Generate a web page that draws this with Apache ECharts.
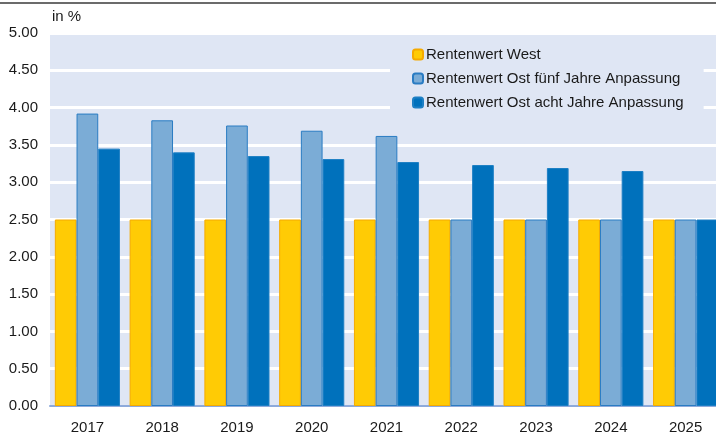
<!DOCTYPE html>
<html>
<head>
<meta charset="utf-8">
<script src="https://cdn.jsdelivr.net/npm/echarts@6/dist/echarts.min.js"></script>
<style>
html,body{margin:0;padding:0;background:#fff;}
#c{width:716px;height:434px;}
</style>
</head>
<body>
<div id="c"></div>
<script>
const categories = ['2017','2018','2019','2020','2021','2022','2023','2024','2025'];
const westValues = [2.50, 2.50, 2.50, 2.50, 2.50, 2.50, 2.50, 2.50, 2.50];
const ostFuenfValues = [3.92, 3.83, 3.76, 3.69, 3.62, 2.50, 2.50, 2.50, 2.50];
const ostAchtValues = [3.45, 3.40, 3.35, 3.31, 3.27, 3.23, 3.19, 3.15, 2.50];
const seriesNames = ['Rentenwert West', 'Rentenwert Ost fünf Jahre Anpassung', 'Rentenwert Ost acht Jahre Anpassung'];
const unitLabel = 'in %';

const FONT = '"Liberation Sans", Arial, sans-serif';
const chart = echarts.init(document.getElementById('c'), null, {renderer: 'canvas'});

function bar(name, data, color, border) {
  return {
    name, type: 'bar', data,
    barWidth: 21.7, barGap: '0%',
    itemStyle: {color, borderColor: border, borderWidth: 1},
    emphasis: {disabled: true}
  };
}

chart.setOption({
  animation: false,
  backgroundColor: '#ffffff',
  textStyle: {fontFamily: FONT},
  grid: {left: 50, right: -7, top: 33, bottom: 28, outerBoundsMode: 'none', containLabel: false,
    show: true, backgroundColor: '#dfe6f4', borderWidth: 0},
  graphic: [
    {type: 'line', shape: {x1: 0, y1: 3, x2: 716, y2: 3}, style: {stroke: '#3a3a3a', lineWidth: 1.5}},
    {type: 'text', left: 52, top: 9, style: {text: unitLabel, font: '15px ' + FONT, fill: '#1a1a1a'}}
  ],
  legend: {
    data: seriesNames,
    orient: 'vertical',
    left: 390, top: 36,
    padding: [10, 20, 18, 22],
    backgroundColor: '#dfe6f4',
    itemWidth: 10, itemHeight: 10, itemGap: 7,
    textStyle: {fontFamily: FONT, fontSize: 15, color: '#1a1a1a', padding: [0, 0, 0, -2], lineHeight: 17}
  },
  xAxis: {
    type: 'category', data: categories,
    axisLine: {show: true, lineStyle: {color: '#8eaadb', width: 2}},
    axisTick: {show: false},
    axisLabel: {fontFamily: FONT, fontSize: 15, color: '#1a1a1a', margin: 14},
    splitLine: {show: false}
  },
  yAxis: {
    type: 'value', min: 0, max: 5, interval: 0.5,
    axisLine: {show: false}, axisTick: {show: false},
    axisLabel: {fontFamily: FONT, fontSize: 15, color: '#1a1a1a', margin: 12,
      formatter: v => v.toFixed(2)},
    splitLine: {show: true, lineStyle: {color: '#ffffff', width: 3}}
  },
  series: [
    bar(seriesNames[0], westValues, '#ffcb05', '#f5aa00'),
    bar(seriesNames[1], ostFuenfValues, '#7bacd6', '#2a7cc3'),
    bar(seriesNames[2], ostAchtValues, '#0071bc', '#1d7fc4')
  ]
});
</script>
</body>
</html>
